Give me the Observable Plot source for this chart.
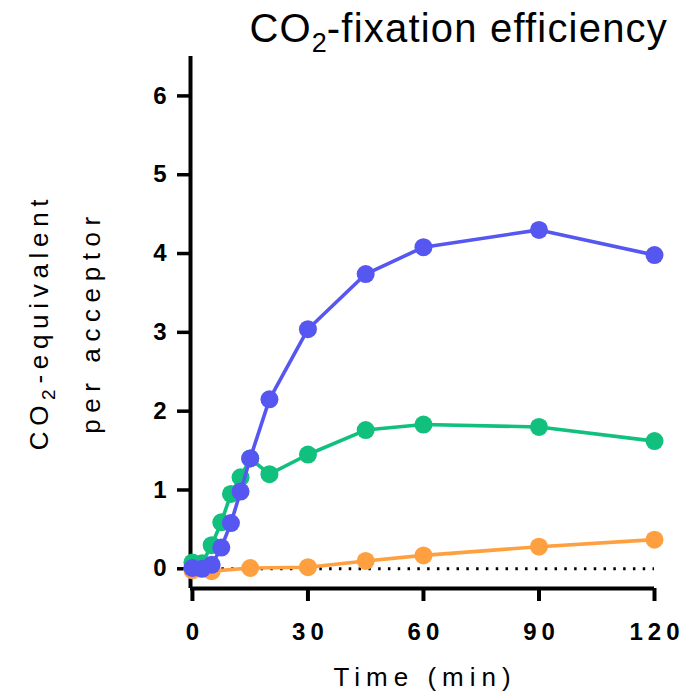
<!DOCTYPE html>
<html>
<head>
<meta charset="utf-8">
<script src="https://cdn.jsdelivr.net/npm/d3@7"></script>
<script src="https://cdn.jsdelivr.net/npm/@observablehq/plot@0.6"></script>
<style>
  html, body { margin: 0; padding: 0; background: white; }
  #wrap { width: 692px; height: 700px; position: relative; font-family: "Liberation Sans", Arial, sans-serif; }
  #title { height: 50px; box-sizing: border-box; text-align: right; padding-right: 24px; padding-top: 8px; font-size: 40px; line-height: 40px; letter-spacing: 1.2px; color: #000; white-space: nowrap; overflow: visible; }
  #title sub { font-size: 27px; vertical-align: -10px; line-height: 0; letter-spacing: 0; }
  svg g[aria-label="x-axis tick label"] text { font-weight: bold; letter-spacing: 5px; }
  svg g[aria-label="y-axis tick label"] text { font-weight: bold; }
</style>
</head>
<body>
<div id="wrap">
  <div id="title">CO<sub>2</sub>-fixation efficiency</div>
  <div id="chart"></div>
</div>
<script>
// ---- data ----
const timeFast = [0, 2.5, 5, 7.5, 10, 12.5, 15, 20, 30, 45, 60, 90, 120];
const blueValues = [0.01, 0.0, 0.05, 0.27, 0.58, 0.98, 1.40, 2.15, 3.04, 3.74, 4.08, 4.30, 3.98];
const greenValues = [0.08, 0.07, 0.30, 0.59, 0.95, 1.16, 1.40, 1.20, 1.45, 1.76, 1.83, 1.80, 1.62];
const timeOrange = [0, 5, 15, 30, 45, 60, 90, 120];
const orangeValues = [-0.02, -0.03, 0.01, 0.02, 0.10, 0.17, 0.28, 0.37];
const xTicks = [0, 30, 60, 90, 120];
const yTicks = [0, 1, 2, 3, 4, 5, 6];
const colors = { orange: "#ffa040", green: "#12c07e", blue: "#5656f0" };

const toRows = (ts, vs) => ts.map((t, i) => ({ t, v: vs[i] }));
const series = [
  { rows: toRows(timeOrange, orangeValues), color: colors.orange },
  { rows: toRows(timeFast, greenValues), color: colors.green },
  { rows: toRows(timeFast, blueValues), color: colors.blue }
];

const seriesMarks = series.flatMap(s => [
  Plot.line(s.rows, { x: "t", y: "v", stroke: s.color, strokeWidth: 3.6 }),
  Plot.dot(s.rows, { x: "t", y: "v", r: 9, fill: s.color, stroke: "none" })
]);

const chart = Plot.plot({
  width: 692,
  height: 650,
  marginLeft: 190,
  marginRight: 38,
  marginTop: 6,
  marginBottom: 112,
  x: { domain: [-0.5, 120], label: null },
  y: { domain: [-0.25, 6.5], label: null },
  style: { fontFamily: "'Liberation Sans', Arial, sans-serif", background: "white", color: "black", overflow: "visible" },
  marks: [
    Plot.ruleY([0], { x1: 0, x2: 120, stroke: "black", strokeWidth: 3, strokeDasharray: "2.5,7.3" }),
    Plot.axisY({ ticks: yTicks, tickSize: 13, tickPadding: 11, strokeWidth: 3.5, fontSize: 24, label: null, tickFormat: d => String(d) }),
    Plot.axisX({ ticks: xTicks, tickSize: 13, tickPadding: 21, strokeWidth: 4, fontSize: 24, label: null, tickFormat: d => String(d) }),
    Plot.ruleX([-0.5], { y1: -0.25, y2: 6.5, stroke: "black", strokeWidth: 4 }),
    Plot.ruleY([-0.25], { x1: -0.5, x2: 120, stroke: "black", strokeWidth: 4 }),
    ...seriesMarks
  ]
});
document.getElementById("chart").appendChild(chart);

// shift x tick labels to compensate trailing letter-spacing
d3.select(chart).selectAll('g[aria-label="x-axis tick label"] text').attr("dx", 2.5);

// axis titles (with subscript), as real SVG text
const svg = d3.select(chart);
const labelFont = "'Liberation Sans', Arial, sans-serif";
svg.append("text")
  .attr("x", 425).attr("y", 636)
  .attr("text-anchor", "middle")
  .attr("font-family", labelFont).attr("font-size", 26)
  .attr("letter-spacing", "6px")
  .text("Time (min)");

const yl1 = svg.append("text")
  .attr("transform", "translate(48,272) rotate(-90)")
  .attr("text-anchor", "middle")
  .attr("font-family", labelFont).attr("font-size", 26)
  .attr("letter-spacing", "5.7px");
yl1.append("tspan").text("CO");
yl1.append("tspan").attr("font-size", 19).attr("dy", 7).text("2");
yl1.append("tspan").attr("dy", -7).text("-equivalent");

svg.append("text")
  .attr("transform", "translate(100,272) rotate(-90)")
  .attr("text-anchor", "middle")
  .attr("font-family", labelFont).attr("font-size", 26)
  .attr("letter-spacing", "6.6px")
  .text("per acceptor");
</script>
</body>
</html>
